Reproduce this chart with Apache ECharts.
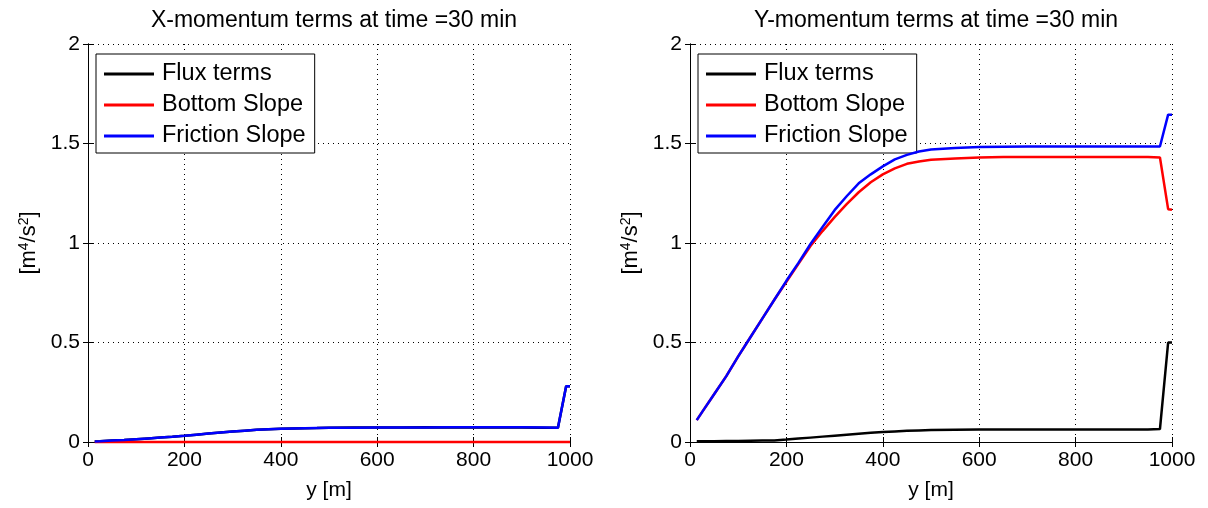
<!DOCTYPE html>
<html>
<head>
<meta charset="utf-8">
<script src="https://cdn.jsdelivr.net/npm/echarts@6/dist/echarts.min.js"></script>
<style>
  html, body { margin: 0; padding: 0; background: #fff; }
  #chart { width: 1208px; height: 508px; }
</style>
</head>
<body>
<div id="chart"></div>
<script>
// Cross-shore positions (m) where the momentum terms are sampled
const yPos = [14, 25, 50, 75, 100, 125, 150, 175, 200, 225, 250, 275, 300, 325, 350, 375, 400,
              425, 450, 475, 500, 550, 600, 650, 700, 750, 800, 850, 900, 950, 975, 992, 1000];

// X-momentum terms
const xFlux     = [0.003, 0.004, 0.007, 0.010, 0.014, 0.018, 0.022, 0.026, 0.031, 0.037, 0.043, 0.048, 0.053, 0.057, 0.061, 0.064, 0.066,
                   0.068, 0.069, 0.070, 0.072, 0.073, 0.073, 0.073, 0.074, 0.073, 0.073, 0.073, 0.073, 0.072, 0.072, 0.280, 0.280];
const xBottom   = [0, 0, 0, 0, 0, 0, 0, 0, 0, 0, 0, 0, 0, 0, 0, 0, 0,
                   0, 0, 0, 0, 0, 0, 0, 0, 0, 0, 0, 0, 0, 0, 0, 0];
const xFriction = [0.003, 0.004, 0.007, 0.010, 0.014, 0.018, 0.022, 0.026, 0.031, 0.037, 0.043, 0.048, 0.053, 0.057, 0.061, 0.064, 0.066,
                   0.068, 0.069, 0.070, 0.071, 0.072, 0.073, 0.073, 0.073, 0.074, 0.074, 0.074, 0.074, 0.073, 0.072, 0.280, 0.280];

// Y-momentum terms
const yFlux     = [0.004, 0.004, 0.004, 0.005, 0.005, 0.006, 0.007, 0.008, 0.012, 0.017, 0.022, 0.027, 0.032, 0.037, 0.042, 0.046, 0.050,
                   0.053, 0.056, 0.058, 0.060, 0.062, 0.063, 0.063, 0.063, 0.063, 0.063, 0.063, 0.063, 0.063, 0.065, 0.500, 0.500];
const yBottom   = [0.110, 0.150, 0.240, 0.330, 0.430, 0.525, 0.620, 0.715, 0.805, 0.895, 0.985, 1.060, 1.130, 1.195, 1.255, 1.305, 1.345,
                   1.375, 1.398, 1.410, 1.418, 1.425, 1.430, 1.432, 1.432, 1.432, 1.432, 1.432, 1.432, 1.432, 1.430, 1.170, 1.167];
const yFriction = [0.110, 0.150, 0.240, 0.330, 0.430, 0.525, 0.620, 0.715, 0.810, 0.900, 0.995, 1.080, 1.165, 1.235, 1.300, 1.345, 1.385,
                   1.420, 1.443, 1.460, 1.470, 1.478, 1.482, 1.484, 1.485, 1.485, 1.485, 1.485, 1.485, 1.485, 1.485, 1.645, 1.645];

const seriesNames = ['Flux terms', 'Bottom Slope', 'Friction Slope'];
const seriesColors = ['#000000', '#ff0000', '#0000ff'];
const xTicks = { min: 0, max: 1000, interval: 200 };
const yTicks = { min: 0, max: 2, interval: 0.5 };

const FONT = '"Liberation Sans", Arial, Helvetica, sans-serif';
const pairs = (vals) => yPos.map((p, i) => [p, vals[i]]);

const panels = [
  { title: 'X-momentum terms at time =30 min', left: 88, data: [xFlux, xBottom, xFriction] },
  { title: 'Y-momentum terms at time =30 min', left: 690, data: [yFlux, yBottom, yFriction] }
];
const PW = 482, PTOP = 44, PH = 398;

const option = {
  animation: false,
  backgroundColor: '#ffffff',
  textStyle: { fontFamily: FONT },
  title: [], grid: [], xAxis: [], yAxis: [], legend: [], series: []
};

panels.forEach((p, k) => {
  option.title.push({
    text: p.title,
    left: p.left + PW / 2, top: 4, textAlign: 'center',
    textStyle: { fontFamily: FONT, fontSize: 23, fontWeight: 'normal', color: '#000' }
  });
  option.grid.push({ left: p.left, top: PTOP, width: PW, height: PH, containLabel: false });

  const axisLine = { show: true, lineStyle: { color: '#000', width: 1 } };
  const tick = { show: true, inside: true, length: 5, lineStyle: { color: '#000' } };
  const grid = { show: true, lineStyle: { color: '#000', type: [1, 4], width: 1 } };
  const label = { fontFamily: FONT, fontSize: 21, color: '#000', margin: 8, formatter: (v) => String(v) };

  option.xAxis.push({
    type: 'value', gridIndex: k, ...xTicks, position: 'bottom',
    name: 'y [m]', nameLocation: 'middle', nameGap: 38,
    nameTextStyle: { fontFamily: FONT, fontSize: 21, color: '#000' },
    axisLine, axisTick: tick, splitLine: grid, axisLabel: label
  });
  option.xAxis.push({
    type: 'value', gridIndex: k, ...xTicks, position: 'top',
    axisLine, axisTick: tick, splitLine: { show: false }, axisLabel: { show: false }
  });
  option.yAxis.push({
    type: 'value', gridIndex: k, ...yTicks, position: 'left',
    name: '{a|[m}{s|4}{a|/s}{s|2}{a|]}', nameLocation: 'middle', nameGap: 47, nameRotate: 90,
    nameTextStyle: {
      fontFamily: FONT, color: '#000',
      rich: {
        a: { fontFamily: FONT, fontSize: 22, color: '#000' },
        s: { fontFamily: FONT, fontSize: 14, color: '#000', verticalAlign: 'top', padding: [0, 0, 10, 0] }
      }
    },
    axisLine, axisTick: tick, splitLine: grid, axisLabel: label
  });
  option.yAxis.push({
    type: 'value', gridIndex: k, ...yTicks, position: 'right',
    axisLine, axisTick: tick, splitLine: { show: false }, axisLabel: { show: false }
  });

  option.legend.push({
    data: seriesNames.map((n) => ({ name: n, icon: 'rect' })),
    orient: 'vertical',
    left: p.left + 8, top: 54,
    itemWidth: 50, itemHeight: 3, itemGap: 7,
    padding: [8, 9, 5, 8],
    borderColor: '#000', borderWidth: 1, backgroundColor: '#fff', borderRadius: 0,
    selectedMode: false,
    textStyle: { fontFamily: FONT, fontSize: 23.5, color: '#000', padding: [0, 0, 0, 3] }
  });

  seriesNames.forEach((name, j) => {
    option.series.push({
      name, type: 'line',
      xAxisIndex: 2 * k, yAxisIndex: 2 * k,
      data: pairs(p.data[j]),
      symbol: 'none', showSymbol: false,
      color: seriesColors[j],
      lineStyle: { color: seriesColors[j], width: 2.5 },
      clip: false, z: 2 + j
    });
  });
});

const chart = echarts.init(document.getElementById('chart'), null, { renderer: 'canvas' });
chart.setOption(option);
</script>
</body>
</html>
